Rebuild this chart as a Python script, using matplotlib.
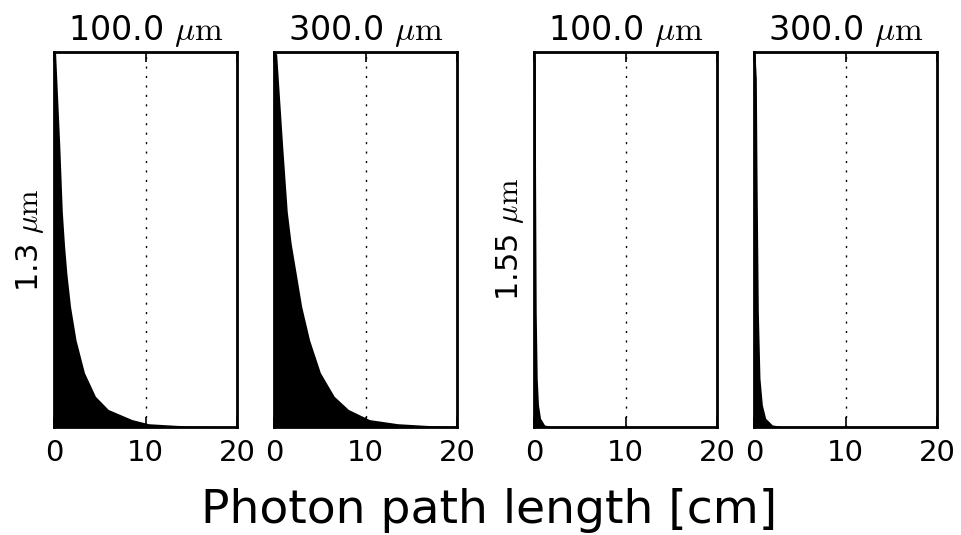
import matplotlib
matplotlib.use('Agg')
import matplotlib.pyplot as plt

plt.rcParams['mathtext.fontset'] = 'cm'

# photon path length (cm) and normalised histogram height
x_13_100 = [0, 0.15, 0.6, 0.88, 1.12, 1.38, 1.78, 2.38, 3.3, 4.5, 5.9, 8.5,
            10.3, 14.5, 20]
h_13_100 = [1.0, 0.996, 0.753, 0.575, 0.486, 0.41, 0.322, 0.233, 0.146, 0.083,
            0.048, 0.021, 0.01, 0.004, 0.002]

x_13_300 = [0, 0.26, 0.91, 1.42, 1.85, 2.4, 3.0, 3.86, 5.04, 6.55, 8.1, 10.4,
            13.5, 17, 20]
h_13_300 = [1.0, 0.996, 0.753, 0.575, 0.49, 0.41, 0.322, 0.233, 0.146, 0.083,
            0.048, 0.021, 0.01, 0.005, 0.003]

x_155_100 = [0, 0.12, 0.16, 0.23, 0.34, 0.48, 0.7, 1.14, 1.8, 20]
h_155_100 = [1.0, 0.98, 0.664, 0.309, 0.131, 0.06, 0.0245, 0.0067, 0.003, 0.0]

x_155_300 = [0, 0.1, 0.23, 0.31, 0.45, 0.63, 0.89, 1.25, 1.98, 3.07, 20]
h_155_300 = [1.0, 0.99, 0.93, 0.664, 0.309, 0.131, 0.06, 0.0245, 0.0067, 0.003, 0.0]

titles = [r'100.0 $\mu\mathrm{m}$', r'300.0 $\mu\mathrm{m}$',
          r'100.0 $\mu\mathrm{m}$', r'300.0 $\mu\mathrm{m}$']
wavelengths = [r'1.3 $\mu\mathrm{m}$', r'1.55 $\mu\mathrm{m}$']
xticks = [0, 10, 20]

panels = [(x_13_100, h_13_100), (x_13_300, h_13_300),
          (x_155_100, h_155_100), (x_155_300, h_155_300)]
lefts = [0.0564, 0.2851, 0.5552, 0.784]

fig = plt.figure(figsize=(9.62, 5.35), dpi=100)

for i, (xs, hs) in enumerate(panels):
    ax = fig.add_axes([lefts[i], 0.201, 0.1902, 0.7012])
    ax.fill_between(xs, hs, 0, color='black', linewidth=0)
    ax.set_xlim(0, 20)
    ax.set_ylim(0, 1)
    ax.set_yticks([])
    ax.set_xticks(xticks)
    ax.tick_params(axis='x', direction='in', top=True, length=7, width=1.2,
                   labelsize=21, pad=8)
    ax.grid(axis='x', color='black', linestyle=(0, (1.5, 5.3)), linewidth=1)
    for s in ax.spines.values():
        s.set_linewidth(2)
    ax.set_title(titles[i], fontsize=24, pad=9)
    if i == 0:
        ax.set_ylabel(wavelengths[0], fontsize=22, labelpad=6)
    if i == 2:
        ax.set_ylabel(wavelengths[1], fontsize=22, labelpad=6)

fig.text(0.508, 0.045, 'Photon path length [cm]', ha='center', va='center', fontsize=34)

plt.savefig('out.png', dpi=100)
